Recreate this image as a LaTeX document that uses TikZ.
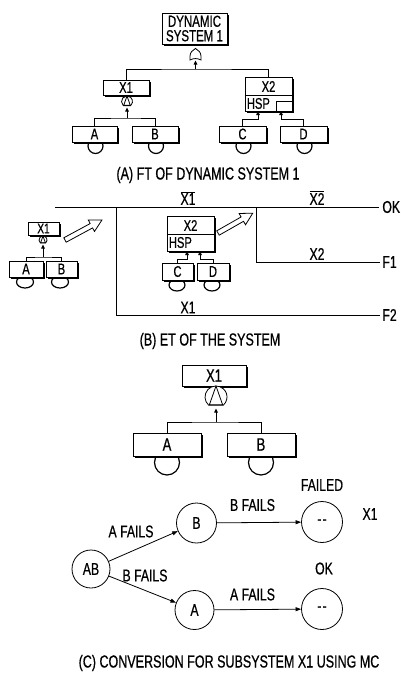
\documentclass[tikz,border=0pt]{standalone}
\usepackage{fontspec}
\setmainfont[FakeStretch=0.72,FakeBold=0.6]{Liberation Sans}
\usetikzlibrary{arrows.meta,shadows,calc}
\newcommand\fsDS{\fontsize{16}{14.5}\selectfont}
\newcommand\fsBox{\fontsize{15.5}{15.5}\selectfont}
\newcommand\fsSm{\fontsize{14}{14}\selectfont}
\newcommand\fsBig{\fontsize{18}{18}\selectfont}
\newcommand\fsCap{\fontsize{17.4}{17.4}\selectfont}
\newcommand\fsG{\fontsize{17}{17}\selectfont}
\newcommand\dd{{-}\kern1.2pt{-}}
\begin{document}
\begin{tikzpicture}[x=1pt,y=-1pt,line width=0.8pt,
  evbox/.style={draw, fill=white, line width=0.8pt, inner sep=0pt,
    drop shadow={shadow xshift=1.6pt, shadow yshift=-1.6pt, fill=black, opacity=1}},
  evc/.style={draw, line width=1.2pt},
  tipA/.style={-{Triangle[length=4pt,width=3.5pt]}, line width=0.8pt},
  state/.style={circle, draw, line width=0.8pt, minimum size=38pt, inner sep=0pt, font=\fsG},
  garrow/.style={-{Triangle[length=5.5pt,width=4pt]}, line width=0.8pt},
  lbl/.style={inner sep=0pt},
  andgate/.pic={
    \draw[fill=white, line width=0.8pt] (-0.66,-0.25) arc[start angle=131.4, end angle=408.6, radius=1] -- cycle;
    \draw[line width=0.8pt] (0,-2) -- (-0.6,-0.3) -- (0.6,-0.3) -- cycle;
  },
  orgate/.pic={
    \draw[fill=white, line width=0.8pt] (-1,0) .. controls (-0.4,-0.35) and (0.4,-0.35) .. (1,0) -- (1,-0.7) .. controls (1,-1.4) and (0.5,-1.8) .. (0,-2.1) .. controls (-0.5,-1.8) and (-1,-1.4) .. (-1,-0.7) -- cycle;
  }
]
\useasboundingbox[fill=white] (0,0) rectangle (400,673);

% ================= (A) =================
\node[evbox, minimum width=65pt, minimum height=31pt, align=center, font=\fsDS] (ds) at (194.5,28.5) {DYNAMIC\\SYSTEM 1};
\pic[scale=5.5] at (195.5,60) {orgate};
\coordinate (jA) at (195.5,69);
\coordinate (gA) at (195.5,60.5);

% event circles (behind boxes)
\draw[evc] (95.5,146) circle (7.5);
\draw[evc] (156,146) circle (7.5);
\draw[evc] (243.5,146) circle (7.5);
\draw[evc] (304.5,146) circle (7.5);

\node[evbox, minimum width=46pt, minimum height=15pt, font=\fsBox] (x1) at (126,87.5) {X1};
\pic[scale=5.5] at (127,107) {andgate};
\coordinate (jX1) at (127,118);
\coordinate (gX1) at (127,107.5);

\node[evbox, minimum width=45pt, minimum height=16pt, font=\fsBox] (a) at (94.5,134) {A};
\node[evbox, minimum width=46pt, minimum height=16pt, font=\fsBox] (b) at (155,134) {B};

\node[evbox, minimum width=47pt, minimum height=34pt] (x2) at (268.5,94) {};
\draw (x2.west) ++(0,1) -- ++(47,0);
\node[lbl, font=\fsBox] (x2t) at (268.5,86.5) {X2};
\node[lbl, font=\fsBox, anchor=west] (hsp) at (246.5,103.5) {HSP};
\draw (276,101.5) rectangle (x2.south east);

\node[evbox, minimum width=47pt, minimum height=16pt, font=\fsBox] (c) at (242.5,134) {C};
\node[evbox, minimum width=47pt, minimum height=16pt, font=\fsBox] (d) at (303.5,134) {D};
\coordinate (cA) at (258,111);
\coordinate (dA) at (281,111);

\draw (x1.north) |- (jA) -| (x2.north);
\draw[tipA] (jA) -- (gA);
\draw (a.north) |- (jX1) -| (b.north);
\draw[tipA] (jX1) -- (gX1);
\draw[tipA] (c.north) -- ++(0,-6) -| (cA);
\draw[tipA] (d.north) -- ++(0,-6) -| (dA);

\node[lbl, font=\fsCap] (capA) at (208,175) {(A) FT OF DYNAMIC SYSTEM 1};

% ================= (B) =================
\coordinate (t0) at (55,207);
\node[lbl, anchor=west, font=\fsG] (ok) at (382,207) {OK};
\node[lbl, anchor=west, font=\fsG] (f1) at (382,262) {F1};
\node[lbl, anchor=west, font=\fsG] (f2) at (382,315) {F2};
\coordinate (v1) at (116,207);
\coordinate (v2) at (256,207);
\draw (t0) -- ($(ok.west)+(-3,0)$);
\draw (v1) |- ($(f2.west)+(-2,0)$);
\draw (v2) |- ($(f1.west)+(-2,0)$);
\node[lbl, font=\fsG] (x1bar) at (188,198) {$\overline{\mbox{X1}}$};
\node[lbl, font=\fsG] (x2bar) at (317,198) {$\overline{\mbox{X2}}$};
\node[lbl, font=\fsG] (x2lab) at (317,254) {X2};
\node[lbl, font=\fsG] (x1lab) at (188,307.5) {X1};

% small tree X1
\draw[evc] (25,282) ellipse (8.5 and 6);
\draw[evc] (60,282) ellipse (8.5 and 6);
\node[evbox, minimum width=31pt, minimum height=13pt, font=\fsSm] (sx1) at (43.5,228.5) {X1};
\pic[scale=4] at (43,244) {andgate};
\coordinate (sj) at (43,257);
\coordinate (sg) at (43,244.5);
\node[evbox, minimum width=34pt, minimum height=16pt, font=\fsBox] (sa) at (26,269) {A};
\node[evbox, minimum width=31pt, minimum height=16pt, font=\fsBox] (sb) at (61.5,269) {B};
\draw (sa.north) |- (sj) -| (sb.north);
\draw[tipA] (sj) -- (sg);

% hollow arrows
\begin{scope}[shift={(65,240)}, rotate=28.4]
  \draw[fill=white] (0,-2.5) -- (30,-2.5) -- (30,-6.5) -- (42,0) -- (30,6.5) -- (30,2.5) -- (0,2.5) -- cycle;
\end{scope}
\begin{scope}[shift={(218,233)}, rotate=29.7]
  \draw[fill=white] (0,-2.5) -- (28,-2.5) -- (28,-6.5) -- (40,0) -- (28,6.5) -- (28,2.5) -- (0,2.5) -- cycle;
\end{scope}

% middle tree X2
\draw[evc] (177,285) ellipse (8 and 6);
\draw[evc] (212,285) ellipse (8 and 6);
\node[evbox, minimum width=47pt, minimum height=35pt] (mx2) at (190.5,233.5) {};
\draw (mx2.west) ++(0,0.5) -- ++(47,0);
\node[lbl, font=\fsBox] (mx2t) at (190.5,225.5) {X2};
\node[lbl, font=\fsBox, anchor=west] (mhsp) at (168.5,242.5) {HSP};
\node[evbox, minimum width=31pt, minimum height=17pt, font=\fsBox] (mc) at (177.5,271.5) {C};
\node[evbox, minimum width=32pt, minimum height=17pt, font=\fsBox] (md) at (213,271.5) {D};
\coordinate (mcA) at (187,251);
\coordinate (mdA) at (200,251);
\draw[tipA] (mc.north) -- ++(0,-3) -| (mcA);
\draw[tipA] (md.north) -- ++(0,-3) -| (mdA);

\node[lbl, font=\fsCap] (capB) at (210,341) {(B) ET OF THE SYSTEM};

% ================= (C) =================
\draw[evc] (167,462.5) circle (12.5);
\draw[evc] (261,462.5) circle (12.5);
\node[evbox, minimum width=64pt, minimum height=21pt, font=\fsBig] (cx1) at (214,375.5) {X1};
\pic[scale=11] at (216,408) {andgate};
\coordinate (cj) at (216,422);
\coordinate (cg) at (216,408.5);
\node[evbox, minimum width=68pt, minimum height=23pt, font=\fsBig] (ca) at (167,444.5) {A};
\node[evbox, minimum width=68pt, minimum height=23pt, font=\fsBig] (cb) at (261,444.5) {B};
\draw (ca.north) |- (cj) -| (cb.north);
\draw[tipA] (cj) -- (cg);

\node[state] (ab) at (91,569) {AB};
\node[state, minimum size=40pt] (sB) at (196.5,523) {B};
\node[state, minimum size=39pt] (sA) at (194.5,610) {A};
\node[state, minimum size=41pt] (fd) at (322,522) {\dd};
\node[state, minimum size=41pt] (okc) at (322,609) {\dd};
\draw[garrow] (ab) -- (sB);
\draw[garrow] (ab) -- (sA);
\draw[garrow] (sB) -- (fd);
\draw[garrow] (sA) -- (okc);
\node[lbl, font=\fsG] (l1) at (131,531.5) {A FAILS};
\node[lbl, font=\fsG] (l2) at (145,575.5) {B FAILS};
\node[lbl, font=\fsG] (l3) at (252.5,505) {B FAILS};
\node[lbl, font=\fsG] (l4) at (252.5,594.5) {A FAILS};
\node[lbl, font=\fsG] (failed) at (322,485) {FAILED};
\node[lbl, font=\fsG] (x1c) at (370,514) {X1};
\node[lbl, font=\fsG] (okl) at (324,568.5) {OK};

\node[lbl, font=\fsCap] (capC) at (229,663) {(C) CONVERSION FOR SUBSYSTEM X1 USING MC};
\end{tikzpicture}
\end{document}
